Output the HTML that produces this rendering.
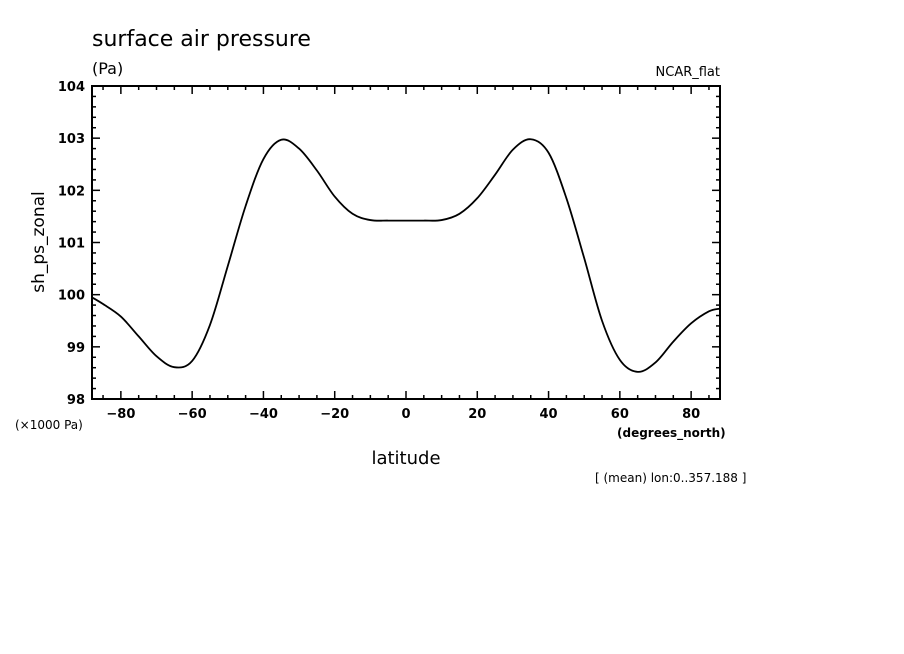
<!DOCTYPE html>
<html><head><meta charset="utf-8"><style>
body{margin:0;background:#fff;}
svg{display:block;font-family:"DejaVu Sans","Liberation Sans",sans-serif;}
</style></head><body>
<svg id="chart" width="904" height="654" viewBox="0 0 904 654" xmlns="http://www.w3.org/2000/svg">
<text x="92" y="46" font-size="22" fill="#000">surface air pressure</text>
<text x="92" y="74" font-size="16" fill="#000">(Pa)</text>
<text x="720" y="76" font-size="13" text-anchor="end" fill="#000">NCAR_flat</text>
<text transform="translate(44,242) rotate(-90)" font-size="17" text-anchor="middle" fill="#000">sh_ps_zonal</text>
<text x="406" y="464" font-size="18" text-anchor="middle" fill="#000">latitude</text>
<text x="15" y="429" font-size="12" fill="#000">(×1000 Pa)</text>
<text x="617" y="437" font-size="12" font-weight="bold" fill="#000">(degrees_north)</text>
<text x="595" y="482" font-size="12" fill="#000">[ (mean) lon:0..357.188 ]</text>
<g id="axes"></g>
<g id="series"></g>
</svg>
<script>
const lats = [-87.9,-85,-80,-75,-70,-65,-60,-55,-50,-45,-40,-35,-30,-25,-20,-15,-10,-5,0,5,10,15,20,25,30,35,40,45,50,55,60,65,70,75,80,85,87.9];
const pressure = [99.94,99.82,99.58,99.2,98.82,98.61,98.73,99.42,100.55,101.7,102.6,102.97,102.8,102.38,101.88,101.55,101.43,101.42,101.42,101.42,101.43,101.55,101.85,102.3,102.78,102.98,102.72,101.85,100.7,99.5,98.75,98.52,98.7,99.1,99.45,99.68,99.73];
const xTicks = [-80,-60,-40,-20,0,20,40,60,80];
const yTicks = [98,99,100,101,102,103,104];

const NS="http://www.w3.org/2000/svg";
const L=92,R=720,T=86,B=399;
const xMin=-88.1,xMax=88.1,yMin=98,yMax=104;
const sx=v=>L+(v-xMin)/(xMax-xMin)*(R-L);
const sy=v=>B-(v-yMin)/(yMax-yMin)*(B-T);
function mk(tag,attrs,parent){const e=document.createElementNS(NS,tag);for(const k in attrs)e.setAttribute(k,attrs[k]);parent.appendChild(e);return e;}
const axes=document.getElementById('axes');
const frame=mk('rect',{x:L,y:T,width:R-L,height:B-T,fill:'none',stroke:'#000','stroke-width':2},axes);


// x ticks
for(let v=-85;v<=85;v+=5){
  const major=v%20===0;const len=major?8:4;const x=sx(v);
  const t1=mk('line',{x1:x,y1:B,x2:x,y2:B-len,stroke:'#000','stroke-width':1.5},axes);
  
  
  const t2=mk('line',{x1:x,y1:T,x2:x,y2:T+len,stroke:'#000','stroke-width':1.5},axes);
  
  
}
xTicks.forEach(v=>{
  const t=mk('text',{x:sx(v),y:B+19,'font-size':13,'font-weight':'bold','text-anchor':'middle',fill:'#000'},axes);
  t.textContent=(v<0?'\u2212':'')+Math.abs(v);
  
  
});
// y ticks
for(let i=0;i<=30;i++){
  const v=yMin+i*0.2;const major=i%5===0;const len=major?8:4;const y=sy(v);
  const t1=mk('line',{x1:L,y1:y,x2:L+len,y2:y,stroke:'#000','stroke-width':1.5},axes);
  
  
  const t2=mk('line',{x1:R,y1:y,x2:R-len,y2:y,stroke:'#000','stroke-width':1.5},axes);
  
  
}
yTicks.forEach(v=>{
  const t=mk('text',{x:L-7,y:sy(v)+5,'font-size':13,'font-weight':'bold','text-anchor':'end',fill:'#000'},axes);
  t.textContent=v;
  
  
});
// series (Catmull-Rom smoothing)
const pts=lats.map((la,i)=>[sx(la),sy(pressure[i])]);
let d='M'+pts[0][0]+','+pts[0][1];
for(let i=0;i<pts.length-1;i++){
  const p0=pts[Math.max(0,i-1)],p1=pts[i],p2=pts[i+1],p3=pts[Math.min(pts.length-1,i+2)];
  const c1=[p1[0]+(p2[0]-p0[0])/6,p1[1]+(p2[1]-p0[1])/6];
  const c2=[p2[0]-(p3[0]-p1[0])/6,p2[1]-(p3[1]-p1[1])/6];
  d+=' C'+c1+' '+c2+' '+p2;
}
const line=mk('path',{d:d,fill:'none',stroke:'#000','stroke-width':1.8},document.getElementById('series'));


</script>
</body></html>
